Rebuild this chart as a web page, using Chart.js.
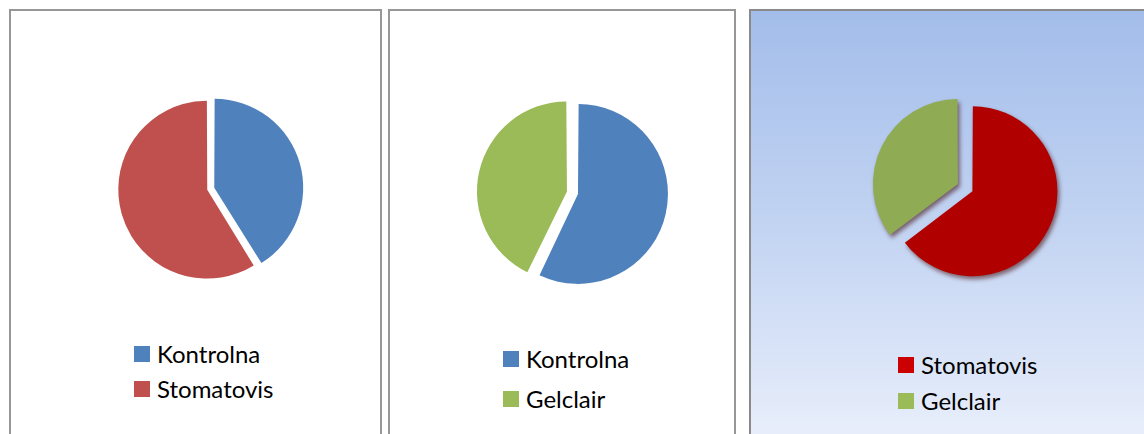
<!DOCTYPE html>
<html>
<head>
<meta charset="utf-8">
<script src="https://cdn.jsdelivr.net/npm/chart.js@4/dist/chart.umd.min.js"></script>
<style>
  html, body { margin: 0; padding: 0; background: #ffffff; width: 1144px; height: 434px; overflow: hidden; position: relative; }
  .panel { position: absolute; box-sizing: border-box; border: 2px solid #979797; height: 460px; }
  #p1 { left: 9px; top: 9px; width: 373px; background: #ffffff; }
  #p2 { left: 388px; top: 9px; width: 348px; background: #ffffff; }
  #p3 { left: 749px; top: 9px; width: 420px; border-color: #8a8a8a;
        background: linear-gradient(to bottom, #a3bdea 0px, #c3d4f2 220px, #e8eefb 425px); }
  canvas { position: absolute; }
  .leg { position: absolute; height: 24px; font-family: Lato, "Open Sans", sans-serif; font-size: 24px; line-height: 24px; color: #000; white-space: nowrap; }
  .leg .mk { position: absolute; left: 0; top: 4px; width: 16px; height: 16px; }
  .leg .tx { position: absolute; top: 0; }
</style>
</head>
<body>
<div class="panel" id="p1"></div>
<div class="panel" id="p2"></div>
<div class="panel" id="p3"></div>
<canvas id="c1" width="301" height="300" style="left:59px;top:39px"></canvas>
<canvas id="c2" width="300" height="300" style="left:424px;top:43px"></canvas>
<canvas id="c3" width="300" height="300" style="left:820px;top:40px"></canvas>
<script>
// ---- data ----
const pie1Labels = ['Kontrolna', 'Stomatovis'];
const pie1Values = [7, 10];
const pie2Labels = ['Kontrolna', 'Gelclair'];
const pie2Values = [8, 6];
const pie3Labels = ['Stomatovis', 'Gelclair'];
const pie3Values = [11, 6];

// ---- styles ----
const pie1Colors = ['#4f81bd', '#c0504d'];
const pie2Colors = ['#4f81bd', '#9bbb59'];
const pie3Colors = ['#b00000', '#8fac54'];
const pie3LegendColors = ['#cc0000', '#9bbb59'];

const shadowPlugin = {
  id: 'shadow3d',
  beforeDatasetsDraw(chart) {
    const ctx = chart.ctx;
    ctx.save();
    ctx.shadowColor = 'rgba(60,0,0,0.55)';
    ctx.shadowBlur = 4;
    ctx.shadowOffsetX = 2;
    ctx.shadowOffsetY = 3;
  },
  afterDatasetsDraw(chart) {
    chart.ctx.restore();
  }
};

function makePie(id, labels, values, colors, radius, offsets, plugins) {
  return new Chart(document.getElementById(id), {
    type: 'pie',
    data: {
      labels: labels,
      datasets: [{
        data: values,
        backgroundColor: colors,
        borderWidth: 0,
        offset: offsets,
        radius: radius
      }]
    },
    options: {
      responsive: false,
      animation: false,
      events: [],
      layout: { padding: 0 },
      plugins: { legend: { display: false }, tooltip: { enabled: false }, title: { display: false } }
    },
    plugins: plugins || []
  });
}

makePie('c1', pie1Labels, pie1Values, pie1Colors, 86.6, [19.8, 9.4]);
makePie('c2', pie2Labels, pie2Values, pie2Colors, 85.9, [16.3, 28.9]);
makePie('c3', pie3Labels, pie3Values, pie3Colors, 82.3, [10.8, 54], [shadowPlugin]);

// ---- legends ----
function makeLegend(labels, colors, x, rowCenters) {
  labels.forEach((lab, i) => {
    const row = document.createElement('div');
    row.className = 'leg';
    row.style.left = x + 'px';
    row.style.top = (rowCenters[i] - 12) + 'px';
    const mk = document.createElement('div');
    mk.className = 'mk';
    mk.style.background = colors[i];
    const tx = document.createElement('span');
    tx.className = 'tx';
    tx.style.left = '23px';
    tx.textContent = lab;
    row.appendChild(mk);
    row.appendChild(tx);
    document.body.appendChild(row);
  });
}
makeLegend(pie1Labels, pie1Colors, 134, [354, 389]);
makeLegend(pie2Labels, pie2Colors, 503, [359, 399]);
makeLegend(pie3Labels, pie3LegendColors, 898, [365, 401]);
</script>
</body>
</html>
